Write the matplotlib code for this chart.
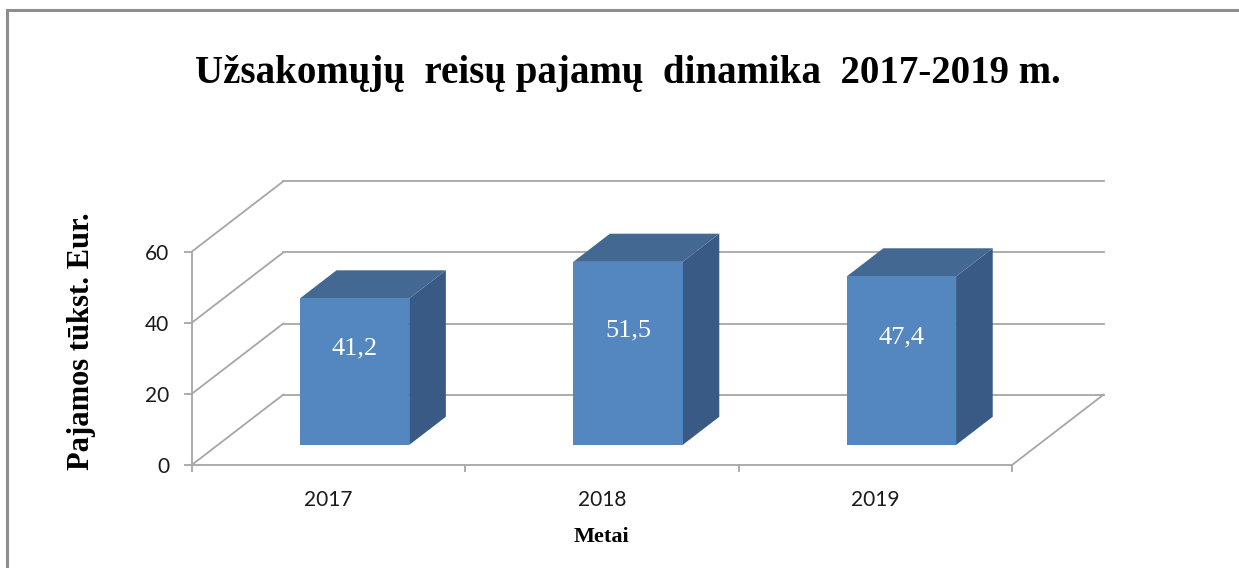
import matplotlib
matplotlib.use("Agg")
import matplotlib.pyplot as plt
from matplotlib.patches import Polygon
from matplotlib.lines import Line2D

# ---- data ----
years = ["2017", "2018", "2019"]
values = [41.2, 51.5, 47.4]
value_labels = ["41,2", "51,5", "47,4"]
yticks = [0, 20, 40, 60]
title = "Užsakomųjų  reisų pajamų  dinamika  2017-2019 m."
xlabel = "Metai"
ylabel = "Pajamos tūkst. Eur."

# ---- style ----
W, H = 1239, 568
fig = plt.figure(figsize=(W / 100, H / 100), dpi=100)
fig.patch.set_facecolor("white")

ax_left, ax_right = 191.7, 1012.0
ax_bottom, ax_top = 465.0, 251.7
ax = fig.add_axes([ax_left / W, 1 - ax_bottom / H,
                   (ax_right - ax_left) / W, (ax_bottom - ax_top) / H])
n = len(years)
ax.set_xlim(0, n)
ax.set_ylim(0, max(yticks))

DX = 0.335   # depth offset in category units
DY = 19.8    # depth offset in value units
grid_c = "#a6a6a6"
front_c = "#5486c0"
top_c = "#436892"
side_c = "#385a84"

# back wall gridlines and left wall diagonals
for t in yticks:
    ax.add_line(Line2D([DX, n + DX], [t + DY, t + DY], color=grid_c, lw=1.3,
                       clip_on=False, zorder=1))
    ax.add_line(Line2D([0, DX], [t, t + DY], color=grid_c, lw=1.3,
                       clip_on=False, zorder=1))
# floor right edge
ax.add_line(Line2D([n, n + DX], [0, DY], color=grid_c, lw=1.3,
                   clip_on=False, zorder=1))

# bars
w = 0.2
d0, d1 = 0.285, 0.685
for i, v in enumerate(values):
    c = i + 0.5
    xl0, xr0 = c - w + d0 * DX, c + w + d0 * DX
    xl1, xr1 = c - w + d1 * DX, c + w + d1 * DX
    yb0, yb1 = d0 * DY, d1 * DY
    yt0, yt1 = v + d0 * DY, v + d1 * DY
    side = Polygon([(xr0, yb0), (xr1, yb1), (xr1, yt1), (xr0, yt0)],
                   closed=True, fc=side_c, ec="none", clip_on=False, zorder=3)
    top = Polygon([(xl0, yt0), (xr0, yt0), (xr1, yt1), (xl1, yt1)],
                  closed=True, fc=top_c, ec="none", clip_on=False, zorder=3)
    front = Polygon([(xl0, yb0), (xr0, yb0), (xr0, yt0), (xl0, yt0)],
                    closed=True, fc=front_c, ec="none", clip_on=False, zorder=4)
    for p in (side, top, front):
        ax.add_patch(p)
    ax.text(c + d0 * DX, v / 2 + d0 * DY + 6.5, value_labels[i],
            ha="center", va="center", color="white",
            fontfamily="Liberation Serif", fontsize=19, zorder=5)

# axes styling
for s in ("top", "right"):
    ax.spines[s].set_visible(False)
for s in ("left", "bottom"):
    ax.spines[s].set_color(grid_c)
    ax.spines[s].set_linewidth(1.3)
    ax.spines[s].set_zorder(2)
ax.set_facecolor("none")

ax.set_yticks(yticks)
ax.set_yticklabels([str(t) for t in yticks])
ax.tick_params(axis="y", direction="out", length=6, width=1.3, color=grid_c,
               pad=10, labelsize=15, labelcolor="#1a1a1a")
ax.set_xticks(range(n + 1))
ax.set_xticklabels([])
ax.tick_params(axis="x", which="major", direction="out", length=5, width=1.3,
               color=grid_c)
ax.set_xticks([i + 0.5 for i in range(n)], minor=True)
ax.set_xticklabels(years, minor=True)
ax.tick_params(axis="x", which="minor", length=0, pad=18, labelsize=15,
               labelcolor="#1a1a1a")
for lab in ax.get_yticklabels() + ax.get_xticklabels(minor=True):
    lab.set_fontfamily("Lato")

# texts
fig.text(628 / W, 1 - 73 / H, title, ha="center", va="center",
         fontfamily="Liberation Serif", fontweight="bold", fontsize=28)
fig.text(601 / W, 1 - 537 / H, xlabel, ha="center", va="center",
         fontfamily="Liberation Serif", fontweight="bold", fontsize=16)
fig.text(82 / W, 1 - 341 / H, ylabel, ha="center", va="center", rotation=90,
         fontfamily="Liberation Serif", fontweight="bold", fontsize=22)

# chart frame (top and left edges visible)
frame_c = "#8e8e8e"
fig.add_artist(Line2D([7 / W, 1], [1 - 10 / H, 1 - 10 / H], color=frame_c,
                      lw=2.2, transform=fig.transFigure))
fig.add_artist(Line2D([7 / W, 7 / W], [1 - 10 / H, 0], color=frame_c,
                      lw=2.2, transform=fig.transFigure))

fig.savefig("out.png", dpi=100)
